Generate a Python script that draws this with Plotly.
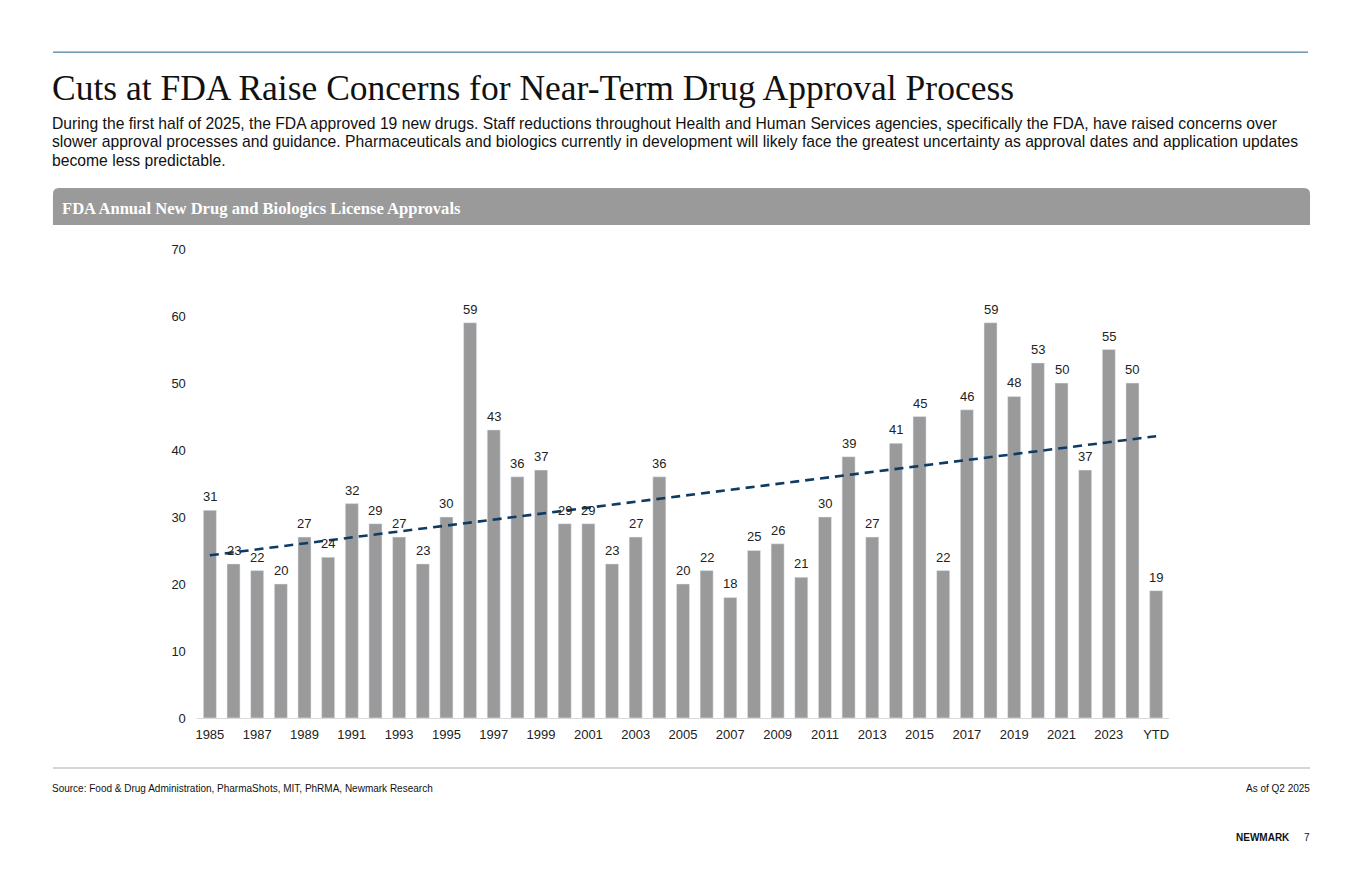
import numpy as np
import plotly.graph_objects as go

# FDA annual approvals (NMEs + BLAs)
years = [str(y) for y in range(1985, 2025)] + ['YTD']
approvals = [31, 23, 22, 20, 27, 24, 32, 29, 27, 23,
             30, 59, 43, 36, 37, 29, 29, 23, 27, 36,
             20, 22, 18, 25, 26, 21, 30, 39, 27, 41,
             45, 22, 46, 59, 48, 53, 50, 37, 55, 50,
             19]
tick_labels = years[::2]
y_ticks = [0, 10, 20, 30, 40, 50, 60, 70]

title = 'Cuts at FDA Raise Concerns for Near-Term Drug Approval Process'
subtitle_lines = [
    'During the first half of 2025, the FDA approved 19 new drugs. Staff reductions throughout Health and Human Services agencies, specifically the FDA, have raised concerns over',
    'slower approval processes and guidance. Pharmaceuticals and biologics currently in development will likely face the greatest uncertainty as approval dates and application updates',
    'become less predictable.',
]
banner = 'FDA Annual New Drug and Biologics License Approvals'
source = 'Source: Food & Drug Administration, PharmaShots, MIT, PhRMA, Newmark Research'

W, H = 1360, 880


def px(x):
    return x / W


def py(y):
    # the page gets photographed slightly squeezed vertically, so map target pixels back
    y = (y - 6.87) / 0.9832
    return 1 - y / H


# linear trendline (as in the Excel chart)
idx = np.arange(len(approvals))
slope, intercept = np.polyfit(idx, approvals, 1)
trend = intercept + slope * idx

fig = go.Figure()
fig.add_trace(go.Bar(x=years, y=approvals, marker_color='#9a9a9a', width=0.55, showlegend=False))
fig.add_trace(go.Scatter(x=years, y=trend, mode='lines',
                         line=dict(color='#0d3b63', width=2.6, dash='9px,6px'),
                         showlegend=False))

fig.update_layout(
    width=W, height=H, margin=dict(l=0, r=0, t=0, b=0),
    paper_bgcolor='white', plot_bgcolor='white',
    font=dict(family='Liberation Sans, Arial', color='#222222'),
    xaxis=dict(domain=[px(196), px(1169)], type='category', tickmode='array', tickvals=tick_labels,
               ticktext=tick_labels, tickfont=dict(size=13), showline=True, linecolor='#d9d9d9',
               linewidth=1, ticks='', showgrid=False, range=[-0.55, 40.55], ticklabelstandoff=4),
    yaxis=dict(domain=[py(718), py(249)], range=[0, 70], tickvals=y_ticks, tickfont=dict(size=13),
               showgrid=False, zeroline=False, ticks='', ticklabelstandoff=10),
)

shapes = [
    dict(type='line', xref='paper', yref='paper', x0=px(52), x1=px(1308), y0=py(52), y1=py(52),
         line=dict(color='#1f5f8b', width=1)),
    dict(type='path', xref='paper', yref='paper',
         path=f'M {px(52)},{py(225)} L {px(52)},{py(194)} Q {px(52)},{py(188)} {px(58)},{py(188)} '
              f'L {px(1304)},{py(188)} Q {px(1310)},{py(188)} {px(1310)},{py(194)} L {px(1310)},{py(225)} Z',
         fillcolor='#9a9a9a', line=dict(width=0)),
    dict(type='line', xref='paper', yref='paper', x0=px(52), x1=px(1310), y0=py(768), y1=py(768),
         line=dict(color='#c8c8c8', width=1.5)),
]


def note(text, x, y, size, family='Liberation Sans, Arial', color='#111111', xanchor='left', yanchor='middle'):
    return dict(text=text, x=px(x), y=py(y), xref='paper', yref='paper', xanchor=xanchor, yanchor=yanchor,
                align='left', showarrow=False, font=dict(family=family, size=size, color=color))


annotations = [
    note(title, 49, 88, 35.5, family='Liberation Serif, Times New Roman'),
    note('<b>' + banner + '</b>', 59, 208, 16.6, family='Liberation Serif, Times New Roman', color='white'),
    note(source, 49, 789, 10),
    note('As of Q2 2025', 1312, 789, 10, xanchor='right'),
    note('<b>NEWMARK</b>', 1292, 838, 10, xanchor='right'),
    note('7', 1312, 838, 10, xanchor='right'),
]
for i, line in enumerate(subtitle_lines):
    annotations.append(note(line, 49, 123 + 18.5 * i, 15.7))

# value labels above bars (category position by index)
for i, v in enumerate(approvals):
    annotations.append(dict(x=i, y=v, xref='x', yref='y', text=str(v), showarrow=False,
                            yanchor='bottom', yshift=4,
                            font=dict(family='Liberation Sans, Arial', size=13, color='#222222')))

fig.update_layout(shapes=shapes, annotations=annotations)
fig.write_html('out.html', config={'displayModeBar': False},
               post_script="document.body.style.margin='0';document.body.style.overflow='hidden';")
